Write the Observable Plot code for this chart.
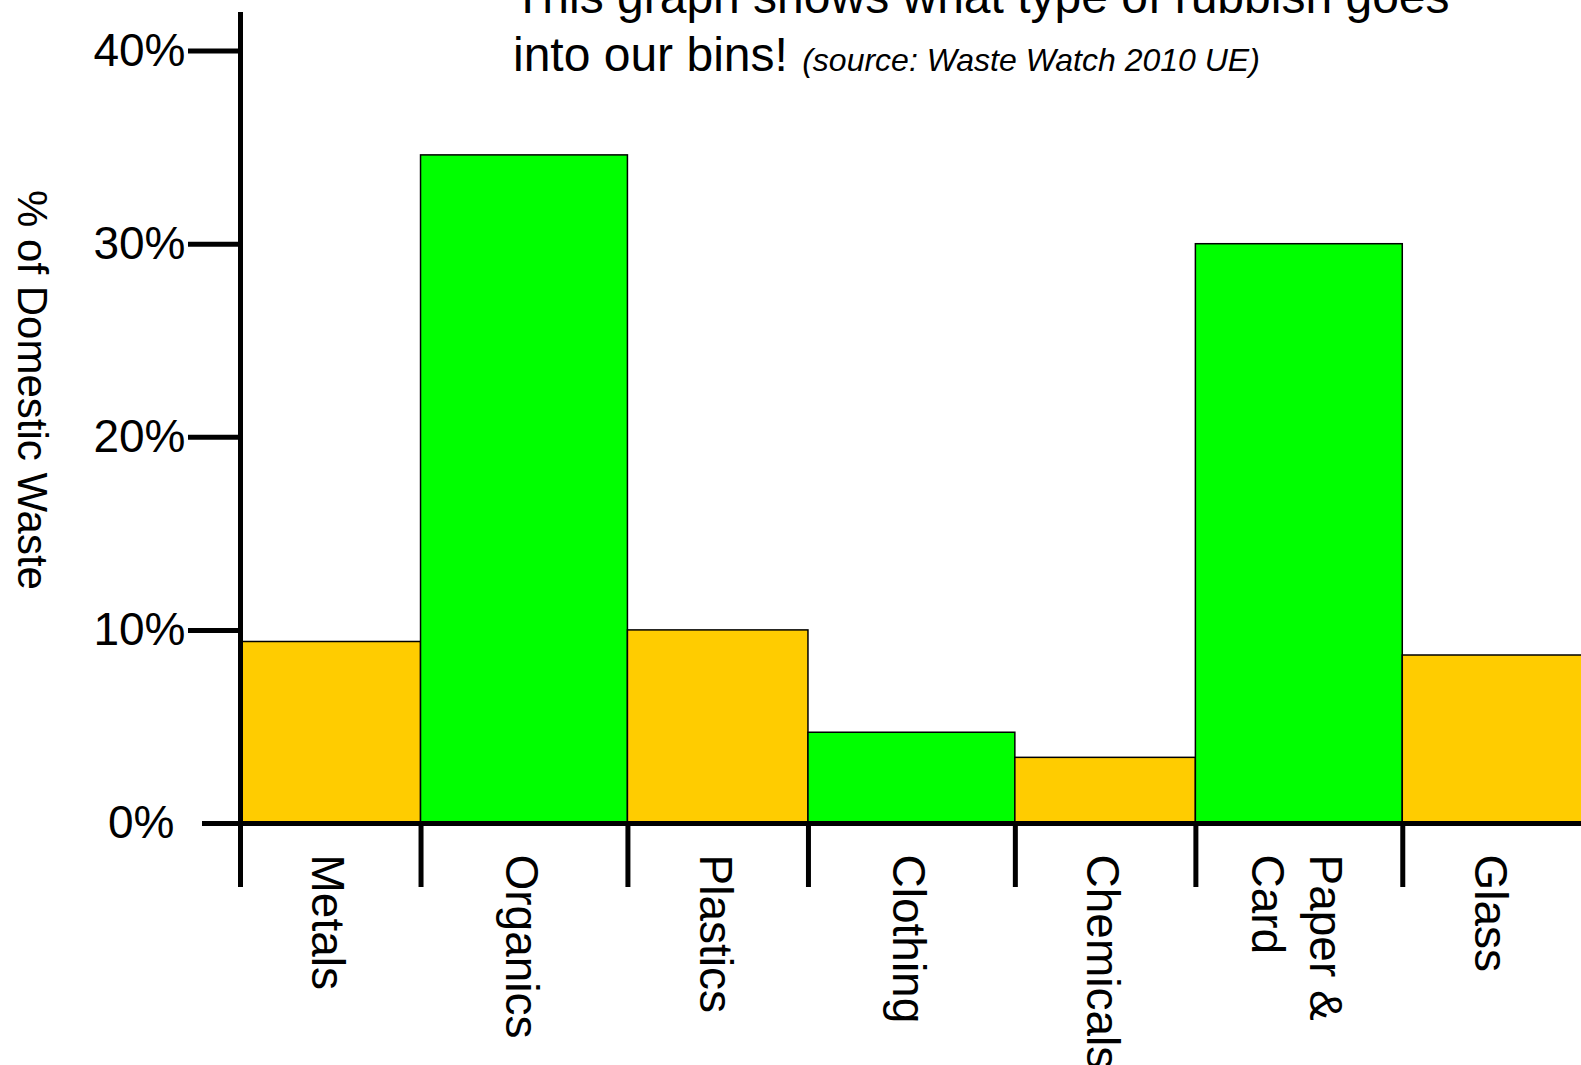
<!DOCTYPE html>
<html>
<head>
<meta charset="utf-8">
<script src="https://cdn.jsdelivr.net/npm/d3@7"></script>
<script src="https://cdn.jsdelivr.net/npm/@observablehq/plot@0.6"></script>
<style>
  html, body { margin: 0; padding: 0; background: #fff; }
  #wrap { position: relative; width: 1581px; height: 1065px; overflow: hidden; background: #fff; }
  #chart svg { display: block; }
  .title {
    position: absolute; left: 513px; top: -32px;
    font-family: "Liberation Sans", Arial, Helvetica, sans-serif;
    font-size: 48px; line-height: 58px; color: #000; white-space: nowrap;
  }
  .title .source { font-style: italic; font-size: 32px; margin-left: 1px; }
</style>
</head>
<body>
<div id="wrap">
  <div id="chart"></div>
  <div class="title">This graph shows what type of rubbish goes<br>into our bins! <span class="source">(source: Waste Watch 2010 UE)</span></div>
</div>
<script>
// Share of domestic waste by material (percent)
const categories = ["Metals", "Organics", "Plastics", "Clothing", "Chemicals", "Paper &\nCard", "Glass"];
const shares = [9.4, 34.6, 10.0, 4.7, 3.4, 30.0, 8.7];
const kinds = ["non-biodegradable", "biodegradable", "non-biodegradable", "biodegradable",
               "non-biodegradable", "biodegradable", "non-biodegradable"];
const yTicks = [0, 10, 20, 30, 40];
const yLabel = "% of Domestic Waste";

// Biodegradable bars are drawn a little wider than the others; bars sit edge to edge.
let cursor = 0;
const bars = categories.map((category, i) => {
  const w = kinds[i] === "biodegradable" ? 1.146 : 1;
  const bar = {category, share: shares[i], kind: kinds[i], x1: cursor, x2: cursor + w};
  cursor += w;
  return bar;
});
const total = cursor;
const pct = d => `${d}%`;
const font = "'Liberation Sans', Arial, Helvetica, sans-serif";

const chart = Plot.plot({
  width: 1581,
  height: 1065,
  marginTop: 12,
  marginBottom: 242,
  marginLeft: 240,
  marginRight: 0,
  x: {domain: [0, total - 0.01], axis: null},
  y: {domain: [0, 42], axis: null},
  color: {domain: ["non-biodegradable", "biodegradable"], range: ["#ffcc00", "#00ff00"]},
  style: {fontFamily: font, fontSize: "46px", color: "#000", background: "#fff", overflow: "visible"},
  marks: [
    Plot.rect(bars, {x1: "x1", x2: "x2", y1: 0, y2: "share", fill: "kind", stroke: "#000", strokeWidth: 1.5, clip: true}),
    Plot.ruleY([0], {stroke: "#000", strokeWidth: 5}),
    Plot.ruleX([0], {stroke: "#000", strokeWidth: 5}),
    Plot.axisY(yTicks.filter(t => t > 0), {label: null, tickSize: 52, tickPadding: 3, tickFormat: pct, strokeWidth: 5, fontSize: 46}),
    Plot.axisY(yTicks.filter(t => t === 0), {label: null, tickSize: 38, tickPadding: 28, tickFormat: pct, strokeWidth: 5, fontSize: 46}),
    Plot.axisX(bars.map(d => d.x1), {label: null, tickSize: 64, tickFormat: () => "", strokeWidth: 5}),
    Plot.text(bars, {
      x: d => (d.x1 + d.x2) / 2, text: "category", frameAnchor: "bottom",
      rotate: 90, textAnchor: "start", lineAnchor: "middle", lineHeight: 1.25,
      dy: 31, fontSize: 46, fill: "#000"
    }),
    Plot.text([yLabel], {
      text: d => d, frameAnchor: "left", rotate: 90, textAnchor: "middle",
      dx: -209, dy: -28, fontSize: 42, fill: "#000"
    })
  ]
});
document.getElementById("chart").append(chart);
</script>
</body>
</html>
